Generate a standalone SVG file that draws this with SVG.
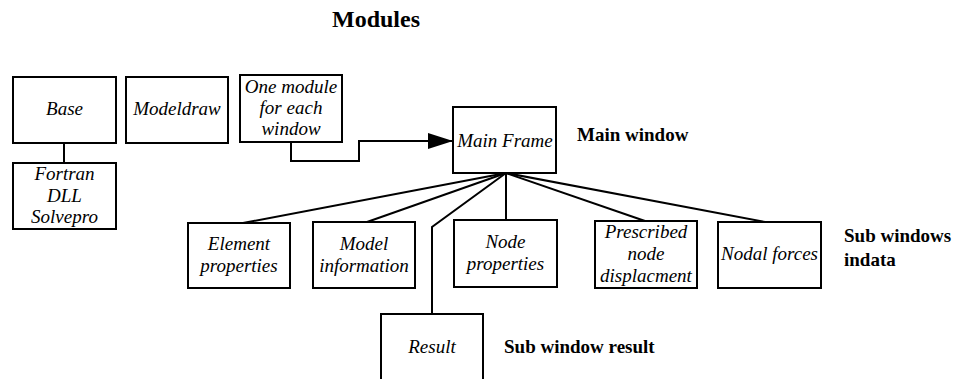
<svg xmlns="http://www.w3.org/2000/svg" width="953" height="379" viewBox="0 0 953 379">
<defs>
<marker id="arr" markerWidth="26" markerHeight="16" refX="25" refY="8" orient="auto" markerUnits="userSpaceOnUse">
<path d="M0,0 L25,8 L0,16 Z" fill="#000"/>
</marker>
</defs>
<rect width="953" height="379" fill="#fff"/>
<text font-family="Liberation Serif" font-weight="bold" font-size="24" x="332" y="27">Modules</text>
<text font-family="Liberation Serif" font-weight="bold" font-size="19" x="577" y="141">Main window</text>
<text font-family="Liberation Serif" font-weight="bold" font-size="19" x="844" y="242">Sub windows</text>
<text font-family="Liberation Serif" font-weight="bold" font-size="19" x="844" y="266">indata</text>
<text font-family="Liberation Serif" font-weight="bold" font-size="19" x="504" y="353">Sub window result</text>
<g id="connectors" fill="none" stroke="#000" stroke-width="2">
<path d="M64,143 V163"/>
<path d="M291,142 V161 H359 V141 H453" marker-end="url(#arr)"/>
<path d="M506,173 L243,223"/>
<path d="M506,173 L367,222"/>
<path d="M506,173 L432,227 V314"/>
<path d="M506,173 V220"/>
<path d="M506,173 L645,221"/>
<path d="M506,173 L765,222"/>
</g>
<g id="base"><rect fill="#fff" stroke="#000" stroke-width="2" x="13" y="77" width="103" height="66"/><text font-family="Liberation Serif" font-style="italic" font-size="19" text-anchor="middle" x="64.5" y="115">Base</text></g>
<g id="modeldraw"><rect fill="#fff" stroke="#000" stroke-width="2" x="126" y="77" width="102" height="66"/><text font-family="Liberation Serif" font-style="italic" font-size="19" text-anchor="middle" x="177" y="115">Modeldraw</text></g>
<g id="onemodule"><rect fill="#fff" stroke="#000" stroke-width="2" x="240" y="75" width="102" height="67"/><text font-family="Liberation Serif" font-style="italic" font-size="19" text-anchor="middle" x="291" y="93">One module</text><text font-family="Liberation Serif" font-style="italic" font-size="19" text-anchor="middle" x="291" y="114">for each</text><text font-family="Liberation Serif" font-style="italic" font-size="19" text-anchor="middle" x="291" y="135">window</text></g>
<g id="fortran"><rect fill="#fff" stroke="#000" stroke-width="2" x="13" y="163" width="103" height="66"/><text font-family="Liberation Serif" font-style="italic" font-size="19" text-anchor="middle" x="64.5" y="180">Fortran</text><text font-family="Liberation Serif" font-style="italic" font-size="19" text-anchor="middle" x="64.5" y="202">DLL</text><text font-family="Liberation Serif" font-style="italic" font-size="19" text-anchor="middle" x="64.5" y="223">Solvepro</text></g>
<g id="mainframe"><rect fill="#fff" stroke="#000" stroke-width="2" x="453" y="107" width="103" height="66"/><text font-family="Liberation Serif" font-style="italic" font-size="19" text-anchor="middle" x="505" y="147">Main Frame</text></g>
<g id="element"><rect fill="#fff" stroke="#000" stroke-width="2" x="188" y="223" width="102" height="65"/><text font-family="Liberation Serif" font-style="italic" font-size="19" text-anchor="middle" x="239" y="250">Element</text><text font-family="Liberation Serif" font-style="italic" font-size="19" text-anchor="middle" x="239" y="272">properties</text></g>
<g id="modelinfo"><rect fill="#fff" stroke="#000" stroke-width="2" x="313" y="222" width="102" height="66"/><text font-family="Liberation Serif" font-style="italic" font-size="19" text-anchor="middle" x="364" y="250">Model</text><text font-family="Liberation Serif" font-style="italic" font-size="19" text-anchor="middle" x="364" y="272">information</text></g>
<g id="nodeprops"><rect fill="#fff" stroke="#000" stroke-width="2" x="454" y="220" width="103" height="67"/><text font-family="Liberation Serif" font-style="italic" font-size="19" text-anchor="middle" x="505.5" y="248">Node</text><text font-family="Liberation Serif" font-style="italic" font-size="19" text-anchor="middle" x="505.5" y="270">properties</text></g>
<g id="prescribed"><rect fill="#fff" stroke="#000" stroke-width="2" x="595" y="221" width="102" height="67"/><text font-family="Liberation Serif" font-style="italic" font-size="19" text-anchor="middle" x="646" y="238">Prescribed</text><text font-family="Liberation Serif" font-style="italic" font-size="19" text-anchor="middle" x="646" y="260">node</text><text font-family="Liberation Serif" font-style="italic" font-size="19" text-anchor="middle" x="646" y="282">displacment</text></g>
<g id="nodal"><rect fill="#fff" stroke="#000" stroke-width="2" x="718" y="222" width="103" height="66"/><text font-family="Liberation Serif" font-style="italic" font-size="19" text-anchor="middle" x="769.5" y="260">Nodal forces</text></g>
<g id="result"><rect fill="#fff" stroke="#000" stroke-width="2" x="381" y="314" width="102" height="75"/><text font-family="Liberation Serif" font-style="italic" font-size="19" text-anchor="middle" x="432" y="353">Result</text></g>
</svg>
